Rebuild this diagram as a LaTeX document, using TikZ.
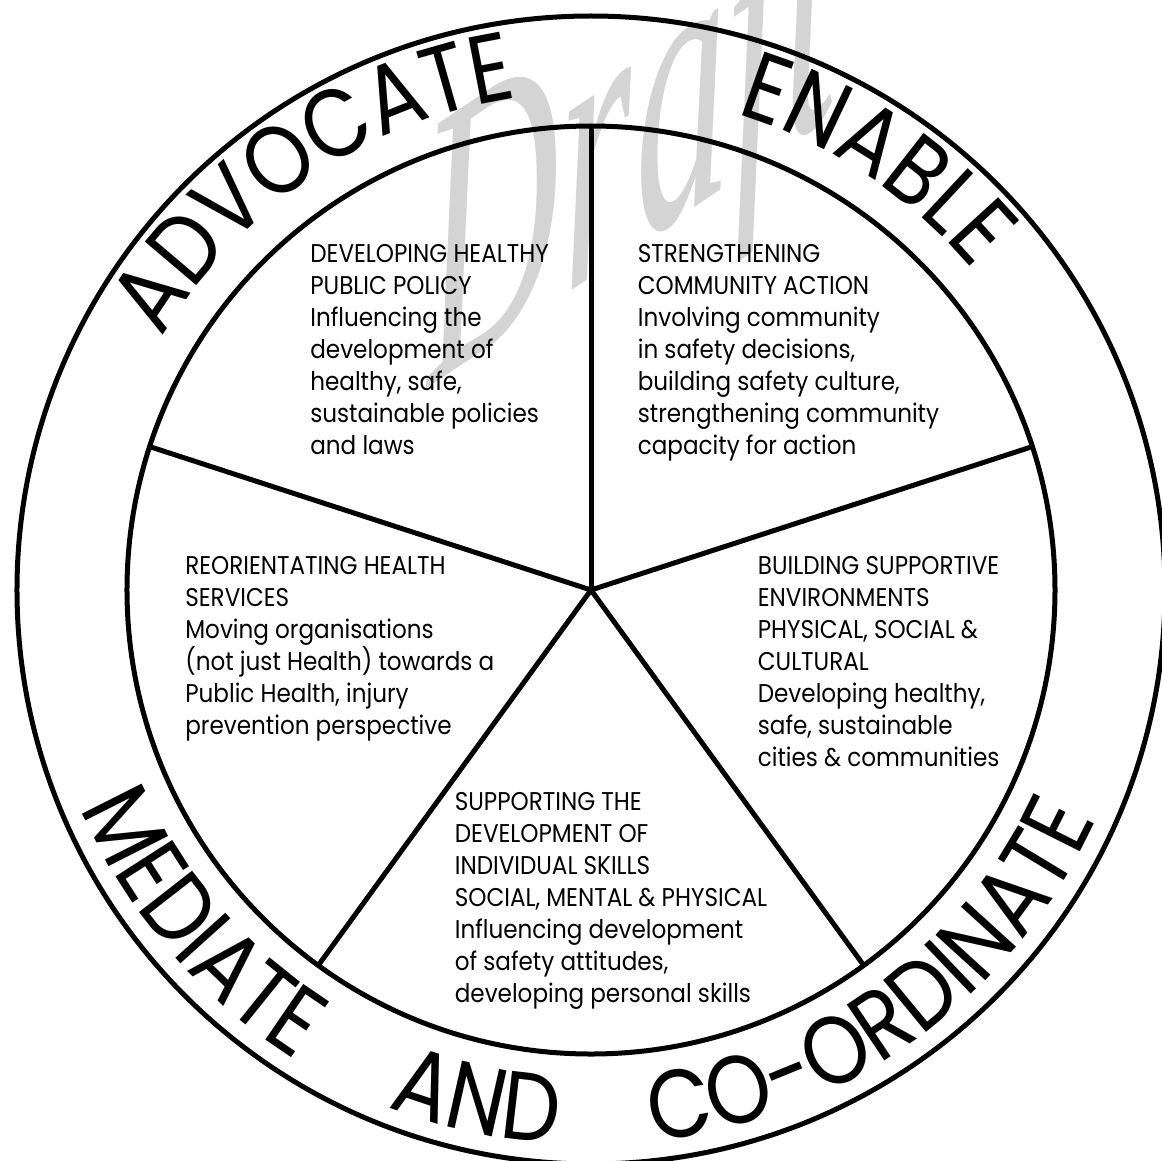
\documentclass[tikz,border=0pt]{standalone}
\usepackage{fontspec}
\setmainfont{Poppins}[FakeStretch=0.9]
\newfontfamily\ringfont{Poppins}[FakeStretch=0.86]
\newfontfamily\markfont{Liberation Serif}
\usetikzlibrary{decorations.text}
\tikzset{
	ring/.style={line width=0.1cm},
	spoke/.style={line width=0.1cm},
	blurb/.style={anchor=north west, inner sep=0pt, align=left, font=\fontsize{14.6}{18.2}\selectfont},
	ringtext/.style={decorate, decoration={text along path, text align=center, text={|\ringfont\fontsize{55}{60}\selectfont|#1}}}
}

\begin{document}
\begin{tikzpicture}
			%%%%% START %%%%%
			\useasboundingbox (-11.82, -11.4) rectangle (11.42, 11.8);
			
			% watermark
			\node[text=black!17, rotate=34, xslant=0.62, xscale=0.7, anchor=base west, inner sep=0pt, font=\markfont\itshape\fontsize{185}{185}\selectfont] (draft) at (-3.25, 4.05) {Draft};
			
			\coordinate (c) at (0, 0);
			\draw[ring] (c) circle (11.48);
			\draw[ring] (c) circle (9.28);
			\foreach \a in {18, 90, 162, 234, 306}
				\draw[spoke] (c) -- (\a:9.28);
			
			% words round the ring
			\path[ringtext=ADVOCATE] (154:9.96) arc[start angle=154, end angle=94, radius=9.96];
			\path[ringtext=ENABLE] (86.5:9.96) arc[start angle=86.5, end angle=26.5, radius=9.96];
			\path[ringtext=MEDIATE] (190.5:11.1) arc[start angle=190.5, end angle=250.5, radius=11.1];
			\path[ringtext=AND] (227.5:11.1) arc[start angle=227.5, end angle=287.5, radius=11.1];
			\path[ringtext=CO-ORDINATE] (266:11.1) arc[start angle=266, end angle=346, radius=11.1];
			
			% the five fields
			\node[blurb] (policy) at (-5.62, 6.92) {DEVELOPING HEALTHY\\PUBLIC POLICY\\Influencing the\\development of\\healthy, safe,\\sustainable policies\\and laws};
			\node[blurb] (community) at (0.93, 6.92) {STRENGTHENING\\COMMUNITY ACTION\\Involving community\\in safety decisions,\\building safety culture,\\strengthening community\\capacity for action};
			\node[blurb] (services) at (-8.12, 0.68) {REORIENTATING HEALTH\\SERVICES\\Moving organisations\\(not just Health) towards a\\Public Health, injury\\prevention perspective};
			\node[blurb] (environments) at (3.33, 0.68) {BUILDING SUPPORTIVE\\ENVIRONMENTS\\PHYSICAL, SOCIAL \&\\CULTURAL\\Developing healthy,\\safe, sustainable\\cities \& communities};
			\node[blurb] (skills) at (-2.73, -4.04) {SUPPORTING THE\\DEVELOPMENT OF\\INDIVIDUAL SKILLS\\SOCIAL, MENTAL \& PHYSICAL\\Influencing development\\of safety attitudes,\\developing personal skills};
			
			%%%%% END %%%%%
\end{tikzpicture}
\end{document}
